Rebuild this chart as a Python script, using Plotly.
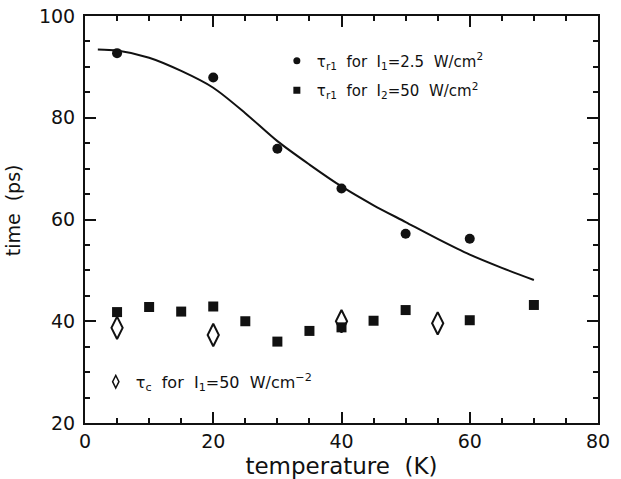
import plotly.graph_objects as go

# Recombination time vs temperature
temp_r1_low = [5, 20, 30, 40, 50, 60]
tau_r1_low = [92.7, 87.9, 73.9, 66.1, 57.2, 56.2]

temp_r1_high = [5, 10, 15, 20, 25, 30, 35, 40, 45, 50, 60, 70]
tau_r1_high = [41.8, 42.8, 41.9, 42.9, 40.0, 36.0, 38.1, 38.8, 40.1, 42.2, 40.2, 43.2]

temp_c = [5, 20, 40, 55]
tau_c = [38.7, 37.3, 40.0, 39.6]

# Fitted curve through the low-intensity points
fit_temp = [2, 5, 10, 15, 20, 25, 30, 35, 40, 45, 50, 55, 60, 65, 70]
fit_tau = [93.4, 93.2, 91.8, 89.2, 85.9, 80.9, 75.4, 70.8, 66.5, 62.8, 59.5, 56.2, 53.1, 50.5, 48.1]

FONT = "DejaVu Sans"
INK = "#111111"

fig = go.Figure()

fig.add_trace(go.Scatter(
    x=fit_temp, y=fit_tau, mode="lines",
    line=dict(color=INK, width=2, shape="spline", smoothing=0.8),
    showlegend=False, hoverinfo="skip",
))
fig.add_trace(go.Scatter(
    x=temp_r1_low, y=tau_r1_low, mode="markers",
    marker=dict(symbol="circle", size=10, color=INK),
    showlegend=False,
))
fig.add_trace(go.Scatter(
    x=temp_r1_high, y=tau_r1_high, mode="markers",
    marker=dict(symbol="square", size=10, color=INK),
    showlegend=False,
))
fig.add_trace(go.Scatter(
    x=temp_c, y=tau_c, mode="markers",
    marker=dict(symbol="diamond-tall-open", size=16, color=INK, line=dict(width=2, color=INK)),
    showlegend=False,
))

# Legend entries (smaller symbols than the data markers)
fig.add_trace(go.Scatter(
    x=[None], y=[None], mode="markers", legend="legend", legendgroup="a",
    marker=dict(symbol="circle", size=7, color=INK),
    name="τ<sub>r1</sub>  for  I<sub>1</sub>=2.5  W/cm<sup>2</sup>",
))
fig.add_trace(go.Scatter(
    x=[None], y=[None], mode="markers", legend="legend", legendgroup="b",
    marker=dict(symbol="square", size=7, color=INK),
    name="τ<sub>r1</sub>  for  I<sub>2</sub>=50  W/cm<sup>2</sup>",
))
fig.add_trace(go.Scatter(
    x=[None], y=[None], mode="markers", legend="legend2",
    marker=dict(symbol="diamond-tall-open", size=9, color=INK, line=dict(width=1.5, color=INK)),
    name="τ<sub>c</sub>  for  I<sub>1</sub>=50  W/cm<sup>−2</sup>",
))


def axis_style(lo, hi, label_gap):
    return dict(
        range=[lo, hi], tick0=lo, dtick=20,
        showgrid=False, zeroline=False, automargin=False,
        showline=True, linecolor=INK, linewidth=2, mirror="allticks",
        ticks="inside", ticklen=11, tickwidth=1.5, tickcolor=INK,
        tickfont=dict(family=FONT, size=19, color=INK),
        ticklabelstandoff=label_gap,
        minor=dict(ticks="inside", ticklen=5, tickwidth=1.5, tickcolor=INK, dtick=5),
    )


xaxis = axis_style(0, 80, 0)
xaxis["title"] = dict(text="temperature  (K)", font=dict(family=FONT, size=23, color=INK), standoff=8)
yaxis = axis_style(20, 100, 4)

fig.update_layout(
    width=621, height=479,
    margin=dict(l=85, r=23, t=16, b=56),
    paper_bgcolor="white", plot_bgcolor="rgba(0,0,0,0)",
    font=dict(family=FONT, color=INK),
    xaxis=xaxis,
    yaxis=yaxis,
    annotations=[dict(
        text="time  (ps)", textangle=-90, showarrow=False,
        xref="paper", yref="paper", x=-0.14, y=0.523,
        xanchor="center", yanchor="middle",
        font=dict(family=FONT, size=19, color=INK),
    )],
    legend=dict(
        x=0.374, y=0.93, xanchor="left", yanchor="top",
        bgcolor="rgba(0,0,0,0)", borderwidth=0,
        font=dict(family=FONT, size=15, color=INK),
        tracegroupgap=7, itemsizing="trace",
    ),
    legend2=dict(
        x=0.021, y=0.143, xanchor="left", yanchor="top",
        bgcolor="rgba(0,0,0,0)", borderwidth=0,
        font=dict(family=FONT, size=16, color=INK),
        itemsizing="trace",
    ),
)

fig.write_html("out.html")
